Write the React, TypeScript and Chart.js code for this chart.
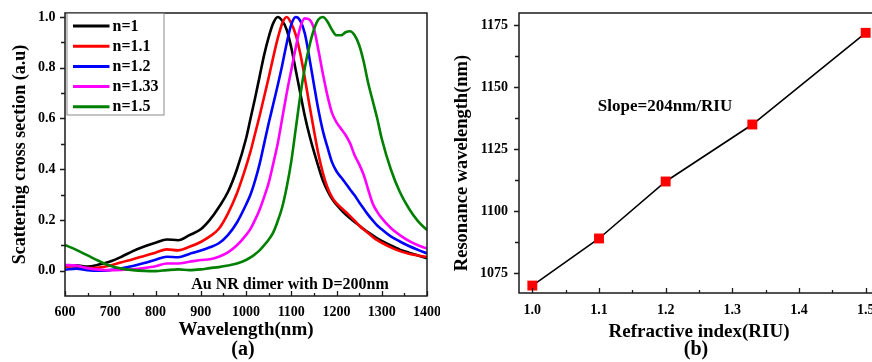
import React, { useEffect, useRef } from 'react';
import { Chart, registerables } from 'chart.js';

Chart.register(...registerables);

const FONT = "'Liberation Serif', 'Times New Roman', Times, serif";

// ---------- Panel (a) data ----------
const wavelengths = [600, 625, 650, 675, 700, 725, 750, 775, 800, 825, 850, 875, 900,
  920, 940, 960, 980,
  1000, 1010, 1020, 1030, 1040, 1050, 1060, 1070, 1080, 1090, 1100, 1110, 1120, 1130, 1140, 1150,
  1160, 1170, 1180, 1190, 1200, 1210, 1220, 1230, 1240, 1250, 1260, 1270, 1280, 1290, 1300,
  1320, 1340, 1360, 1380, 1400];

const n100 = [0.016, 0.021, 0.016, 0.024, 0.036, 0.055, 0.077, 0.095, 0.11, 0.123, 0.12, 0.14, 0.163,
  0.2, 0.25, 0.31, 0.40,
  0.52, 0.6, 0.68, 0.765, 0.85, 0.92, 0.975, 1.0, 0.985, 0.95, 0.88, 0.79, 0.70, 0.61, 0.535, 0.47,
  0.41, 0.355, 0.315, 0.283, 0.26, 0.24, 0.222, 0.207, 0.192, 0.178, 0.164, 0.151, 0.139, 0.127, 0.117,
  0.099, 0.083, 0.071, 0.06, 0.049];

const n110 = [0.016, 0.017, 0.01, 0.012, 0.02, 0.033, 0.045, 0.058, 0.071, 0.084, 0.08, 0.094, 0.113,
  0.135, 0.165, 0.225, 0.305,
  0.41, 0.47, 0.54, 0.61, 0.685, 0.76, 0.84, 0.915, 0.975, 1.0, 0.975, 0.93, 0.855, 0.76, 0.655, 0.555,
  0.46, 0.385, 0.328, 0.29, 0.265, 0.248, 0.232, 0.215, 0.197, 0.178, 0.162, 0.148, 0.133, 0.12, 0.11,
  0.092, 0.077, 0.067, 0.06, 0.054];

const n120 = [0.004, 0.008, 0.002, 0.0, 0.002, 0.009, 0.018, 0.03, 0.043, 0.055, 0.053, 0.066, 0.079,
  0.092, 0.108, 0.14, 0.19,
  0.26, 0.3, 0.355, 0.42, 0.5, 0.58, 0.655, 0.73, 0.81, 0.897, 0.97, 1.0, 0.985, 0.935, 0.84, 0.735,
  0.634, 0.55, 0.487, 0.428, 0.392, 0.368, 0.345, 0.32, 0.297, 0.27, 0.245, 0.22, 0.198, 0.178, 0.163,
  0.135, 0.115, 0.097, 0.082, 0.068];

const n133 = [0.022, 0.02, 0.01, 0.004, 0.002, 0.003, 0.005, 0.01, 0.017, 0.028, 0.028, 0.035, 0.042,
  0.045, 0.055, 0.072, 0.1,
  0.14, 0.165, 0.2, 0.24, 0.29, 0.345, 0.42, 0.5, 0.6, 0.7, 0.79, 0.88, 0.96, 0.995, 0.99, 0.955,
  0.87, 0.775, 0.69, 0.622, 0.585, 0.56, 0.535, 0.502, 0.455, 0.42, 0.378, 0.32, 0.265, 0.232, 0.207,
  0.168, 0.14, 0.117, 0.1, 0.087];

const n150 = [0.101, 0.082, 0.06, 0.038, 0.019, 0.008, 0.002, -0.001, -0.002, 0.002, 0.005, 0.002, 0.005,
  0.01, 0.014, 0.02, 0.028,
  0.042, 0.052, 0.065, 0.08, 0.1, 0.122, 0.15, 0.195, 0.25, 0.33, 0.43, 0.56, 0.69, 0.8, 0.885, 0.95,
  0.99, 1.0, 0.982, 0.95, 0.928, 0.928, 0.94, 0.944, 0.928, 0.89, 0.825, 0.74, 0.67, 0.6, 0.52,
  0.4, 0.31, 0.245, 0.195, 0.16];

const seriesLabels = ['n=1', 'n=1.1', 'n=1.2', 'n=1.33', 'n=1.5'];
const seriesValues = [n100, n110, n120, n133, n150];
const seriesColors = ['#000000', '#ff0000', '#0000ff', '#ff00ff', '#008000'];

const xTicksA = [600, 700, 800, 900, 1000, 1100, 1200, 1300, 1400];
const xMinorA = [650, 750, 850, 950, 1050, 1150, 1250, 1350];
const yTicksA = [0.0, 0.2, 0.4, 0.6, 0.8, 1.0];
const yMinorA = [0.1, 0.3, 0.5, 0.7, 0.9];

// ---------- Panel (b) data ----------
const refractiveIndex = [1.0, 1.1, 1.2, 1.33, 1.5];
const resonanceWavelength = [1070, 1089, 1112, 1135, 1172];

const xTicksB = [1.0, 1.1, 1.2, 1.3, 1.4, 1.5];
const xMinorB = [1.05, 1.15, 1.25, 1.35, 1.45];
const yTicksB = [1075, 1100, 1125, 1150, 1175];
const yMinorB = [1087.5, 1112.5, 1137.5, 1162.5];

const W = 440;
const H = 362;

type Spec = {
  xMajor: number[];
  xMinor: number[];
  yMajor: number[];
  yMinor: number[];
  yTitle: string;
  yTitleX: number;
  yTitleDy: number;
  yTitleSize: number;
  xTitle: string;
  xTitleY: number;
  tag: string;
  tagY: number;
  note: string;
  noteX: number;
  noteY: number;
  noteSize: number;
  legend: boolean;
};

function text(ctx: CanvasRenderingContext2D, s: string, x: number, y: number, size: number, align: CanvasTextAlign = 'center') {
  ctx.font = `bold ${size}px ${FONT}`;
  ctx.textAlign = align;
  ctx.textBaseline = 'middle';
  ctx.fillStyle = '#000';
  ctx.fillText(s, x, y);
}

function framePlugin(spec: Spec) {
  return {
    id: 'frame',
    afterDraw(chart: any) {
      const { ctx, chartArea: a } = chart;
      const xs = chart.scales.x;
      const ys = chart.scales.y;
      ctx.save();
      ctx.strokeStyle = '#1a1a1a';
      ctx.lineWidth = 1.5;
      ctx.strokeRect(a.left, a.top, a.right - a.left, a.bottom - a.top);
      ctx.lineWidth = 1.3;
      ctx.beginPath();
      spec.xMajor.forEach((v) => {
        const p = Math.round(xs.getPixelForValue(v)) + 0.5;
        ctx.moveTo(p, a.bottom);
        ctx.lineTo(p, a.bottom - 5);
      });
      spec.xMinor.forEach((v) => {
        const p = Math.round(xs.getPixelForValue(v)) + 0.5;
        ctx.moveTo(p, a.bottom);
        ctx.lineTo(p, a.bottom - 3);
      });
      spec.yMajor.forEach((v) => {
        const p = Math.round(ys.getPixelForValue(v)) + 0.5;
        ctx.moveTo(a.left, p);
        ctx.lineTo(a.left - 5, p);
      });
      spec.yMinor.forEach((v) => {
        const p = Math.round(ys.getPixelForValue(v)) + 0.5;
        ctx.moveTo(a.left, p);
        ctx.lineTo(a.left - 4, p);
      });
      ctx.stroke();

      // axis titles
      const cx = (a.left + a.right) / 2;
      text(ctx, spec.xTitle, cx, spec.xTitleY, 19);
      text(ctx, spec.tag, cx - 3, spec.tagY, 20);
      ctx.save();
      ctx.translate(spec.yTitleX, (a.top + a.bottom) / 2 + spec.yTitleDy);
      ctx.rotate(-Math.PI / 2);
      text(ctx, spec.yTitle, 0, 0, spec.yTitleSize);
      ctx.restore();

      // annotation
      text(ctx, spec.note, spec.noteX, spec.noteY, spec.noteSize);

      // legend
      if (spec.legend) {
        const bx = a.left + 1.5;
        const by = a.top + 0.5;
        ctx.strokeStyle = '#8a8a8a';
        ctx.lineWidth = 1;
        ctx.strokeRect(bx + 0.5, by, 97, 101.5);
        chart.data.datasets.forEach((ds: any, i: number) => {
          const y = by + 12.5 + i * 20.2;
          ctx.strokeStyle = ds.borderColor;
          ctx.lineWidth = 3;
          ctx.beginPath();
          ctx.moveTo(bx + 6.5, y);
          ctx.lineTo(bx + 43, y);
          ctx.stroke();
          text(ctx, ds.label, bx + 46, y + 0.5, 16, 'left');
        });
      }
      ctx.restore();
    },
  };
}

const tickFont = { family: FONT, size: 14, weight: 'bold' as const };

function PanelA() {
  const ref = useRef<HTMLCanvasElement>(null);
  useEffect(() => {
    const chartLeft = 65;
    const chartBottom = 296;
    const chart = new Chart(ref.current as HTMLCanvasElement, {
      type: 'line',
      data: {
        datasets: seriesValues.map((vals, i) => ({
          label: seriesLabels[i],
          data: wavelengths.map((w, j) => ({ x: w, y: vals[j] })),
          borderColor: seriesColors[i],
          backgroundColor: seriesColors[i],
          borderWidth: 2.6,
          pointRadius: 0,
          cubicInterpolationMode: 'monotone' as const,
          fill: false,
          order: seriesValues.length - i,
        })),
      },
      options: {
        responsive: false,
        animation: false,
        layout: { autoPadding: false, padding: { top: 13, right: 13, left: 0, bottom: 0 } },
        plugins: { legend: { display: false }, tooltip: { enabled: false }, title: { display: false } },
        scales: {
          x: {
            type: 'linear',
            min: 600,
            max: 1400,
            grid: { display: false, drawTicks: false },
            border: { display: false },
            afterBuildTicks: (s: any) => { s.ticks = xTicksA.map((v) => ({ value: v })); },
            afterFit: (s: any) => { s.height = H - chartBottom; s.paddingLeft = 0; s.paddingRight = 0; },
            ticks: { padding: 7.6, font: tickFont, color: '#000', autoSkip: false, maxRotation: 0, callback: (v: any) => String(v) },
          },
          y: {
            type: 'linear',
            min: -0.1,
            max: 1.016,
            grid: { display: false, drawTicks: false },
            border: { display: false },
            afterBuildTicks: (s: any) => { s.ticks = yTicksA.map((v) => ({ value: v })); },
            afterFit: (s: any) => { s.width = chartLeft; s.paddingTop = 0; s.paddingBottom = 0; },
            ticks: { padding: 9.5, font: tickFont, color: '#000', autoSkip: false, callback: (v: any) => Number(v).toFixed(1) },
          },
        },
      },
      plugins: [framePlugin({
        xMajor: xTicksA, xMinor: xMinorA, yMajor: yTicksA, yMinor: yMinorA,
        yTitle: 'Scattering cross section (a.u)', yTitleX: 20, yTitleDy: 0, yTitleSize: 18,
        xTitle: 'Wavelength(nm)', xTitleY: 330, tag: '(a)', tagY: 350,
        note: 'Au NR dimer with D=200nm', noteX: 290, noteY: 285, noteSize: 16,
        legend: true,
      })],
    } as any);
    return () => chart.destroy();
  }, []);
  return <canvas ref={ref} width={W} height={H} style={{ position: 'absolute', left: 0, top: 0 }} />;
}

function PanelB() {
  const ref = useRef<HTMLCanvasElement>(null);
  useEffect(() => {
    const chartLeft = 79;
    const chartBottom = 293;
    const chart = new Chart(ref.current as HTMLCanvasElement, {
      type: 'line',
      data: {
        datasets: [{
          label: 'Resonance',
          data: refractiveIndex.map((n, j) => ({ x: n, y: resonanceWavelength[j] })),
          borderColor: '#000000',
          borderWidth: 1.6,
          pointStyle: 'rect',
          pointRadius: 7,
          pointBackgroundColor: '#ff0000',
          pointBorderColor: '#ff0000',
          pointBorderWidth: 0,
          tension: 0,
          fill: false,
          clip: false,
        }],
      },
      options: {
        responsive: false,
        animation: false,
        layout: { autoPadding: false, padding: { top: 13, right: 1, left: 0, bottom: 0 } },
        plugins: { legend: { display: false }, tooltip: { enabled: false }, title: { display: false } },
        scales: {
          x: {
            type: 'linear',
            min: 0.98,
            max: 1.52,
            grid: { display: false, drawTicks: false },
            border: { display: false },
            afterBuildTicks: (s: any) => { s.ticks = xTicksB.map((v) => ({ value: v })); },
            afterFit: (s: any) => { s.height = H - chartBottom; s.paddingLeft = 0; s.paddingRight = 0; },
            ticks: { padding: 8.6, font: tickFont, color: '#000', autoSkip: false, maxRotation: 0, callback: (v: any) => Number(v).toFixed(1) },
          },
          y: {
            type: 'linear',
            min: 1067,
            max: 1180,
            grid: { display: false, drawTicks: false },
            border: { display: false },
            afterBuildTicks: (s: any) => { s.ticks = yTicksB.map((v) => ({ value: v })); },
            afterFit: (s: any) => { s.width = chartLeft; s.paddingTop = 0; s.paddingBottom = 0; },
            ticks: { padding: 11, font: tickFont, color: '#000', autoSkip: false, callback: (v: any) => String(v) },
          },
        },
      },
      plugins: [framePlugin({
        xMajor: xTicksB, xMinor: xMinorB, yMajor: yTicksB, yMinor: yMinorB,
        yTitle: 'Resonance wavelength(nm)', yTitleX: 22, yTitleDy: 10, yTitleSize: 18.5,
        xTitle: 'Refractive index(RIU)', xTitleY: 332, tag: '(b)', tagY: 350,
        note: 'Slope=204nm/RIU', noteX: 225, noteY: 107, noteSize: 17,
        legend: false,
      })],
    } as any);
    return () => chart.destroy();
  }, []);
  return <canvas ref={ref} width={W} height={H} style={{ position: 'absolute', left: 440, top: 0 }} />;
}

export default function App() {
  return (
    <div style={{ position: 'fixed', left: 0, top: 0, width: 872, height: 362, overflow: 'hidden', background: '#ffffff' }}>
      <PanelA />
      <PanelB />
    </div>
  );
}
